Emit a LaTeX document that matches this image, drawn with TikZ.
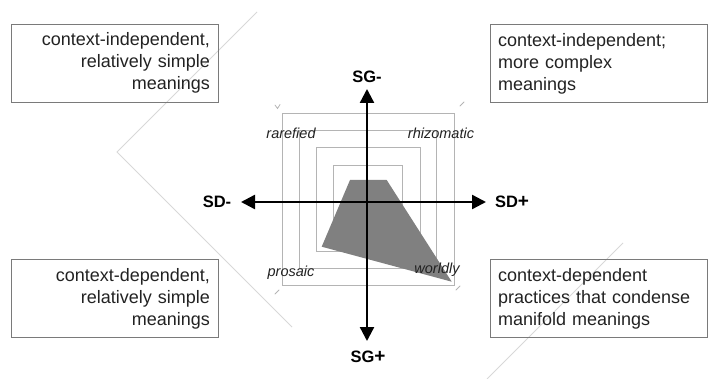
\documentclass[tikz,border=0pt]{standalone}
\usepackage{fontspec}
\setmainfont{Liberation Sans}
\usetikzlibrary{arrows.meta}
\definecolor{boxline}{HTML}{7A7A7A}
\definecolor{txt}{HTML}{222222}
\definecolor{sq}{HTML}{B4B4B4}
\definecolor{poly}{HTML}{808080}
\definecolor{diag}{HTML}{D8D8D8}
\newcommand{\bigplus}{\raisebox{0.5pt}{\fontsize{19}{19}\selectfont+}}
\begin{document}
\begin{tikzpicture}[x=1pt,y=-1pt,
 infobox/.style={draw=boxline, line width=0.9pt, minimum height=78pt, inner xsep=8pt, inner ysep=0pt, font=\fontsize{18}{22}\selectfont, text=txt},
 axislbl/.style={font=\fontsize{16.5}{16.5}\selectfont\bfseries, text=black, inner sep=0pt},
 zonelbl/.style={font=\fontsize{14.5}{14.5}\selectfont\itshape, text=txt, inner sep=0pt},
 ring/.style={draw=sq, line width=0.9pt},
 axisarrow/.style={line width=2.4pt, -{Triangle[length=14pt,width=14pt]}},
 tickmark/.style={draw=sq, line width=0.8pt, line cap=round},
 diagline/.style={draw=diag, line width=0.8pt},
]
\useasboundingbox (0,0) rectangle (708,379);

% faint background diamond
\draw[diagline] (257,12) -- (117,152) -- (292,327);
\draw[diagline] (623,243) -- (487,379);

% concentric squares
\draw[ring] (282,113) rectangle (454,285);
\draw[ring] (299.5,130) rectangle (436.5,268);
\draw[ring] (316,147) rectangle (420,251);
\draw[ring] (333,165) rectangle (402,233);

% corner marks
\draw[tickmark] (275,105) -- (277.5,108.5) -- (280,104.5);
\draw[tickmark] (460,106) -- (464,102);
\draw[tickmark] (275,294) -- (279,290);
\draw[tickmark] (456,290) -- (460,286);

% shaded profile
\fill[poly] (350,180) -- (386.7,180) -- (451.7,281.7) -- (321.7,246.7) -- cycle;

% axes
\coordinate (o) at (367,202);
\coordinate (sgm) at (367,89);
\coordinate (sgp) at (367,341);
\coordinate (sdm) at (241,202);
\coordinate (sdp) at (486,202);
\draw[axisarrow] (o) -- (sgm);
\draw[axisarrow] (o) -- (sgp);
\draw[axisarrow] (o) -- (sdm);
\draw[axisarrow] (o) -- (sdp);

\node[axislbl] (SGminus) at (367,77) {SG-};
\node[axislbl] (SGplus) at (368,357) {SG\bigplus};
\node[axislbl] (SDminus) at (217,202) {SD-};
\node[axislbl] (SDplus) at (512,202) {SD\bigplus};

% zone labels
\node[zonelbl] (rarefied) at (291,133) {rarefied};
\node[zonelbl] (rhizomatic) at (441,133) {rhizomatic};
\node[zonelbl] (prosaic) at (291,273) {prosaic};
\node[zonelbl] (worldly) at (437,270) {worldly};

% corner boxes
\node[infobox, text width=191pt, align=right] (tl) at (114.5,63) {context-independent,\\relatively simple\\meanings};
\node[infobox, text width=201pt, align=left] (tr) at (598.5,63.5) {context-independent;\\more complex\\meanings};
\node[infobox, text width=191pt, align=right] (bl) at (114.5,298.5) {context-dependent,\\relatively simple\\meanings};
\node[infobox, text width=201pt, align=left] (br) at (598.5,298.5) {context-dependent\\practices that condense\\manifold meanings};
\end{tikzpicture}
\end{document}
